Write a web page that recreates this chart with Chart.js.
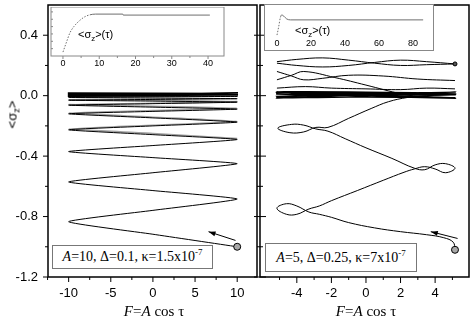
<!DOCTYPE html>
<html>
<head>
<meta charset="utf-8">
<script src="https://cdn.jsdelivr.net/npm/chart.js@4.4.1/dist/chart.umd.min.js"></script>
<style>
  html, body { margin: 0; padding: 0; background: #fff; }
  body { position: relative; width: 474px; height: 325px; overflow: hidden; font-family: "Liberation Sans", Arial, sans-serif; }
  canvas { position: absolute; }
  .lbl { position: absolute; white-space: nowrap; color: #000; line-height: 1; }
  .lbl sub { font-size: 0.72em; vertical-align: -0.35em; line-height: 0; }
  .serif { font-family: "Liberation Serif", "Times New Roman", serif; }
  .note { position: absolute; box-sizing: border-box; border: 1px solid #777; background: #fff; font-family: "Liberation Serif", serif; font-size: 14px; text-align: center; white-space: nowrap; }
  .note sup { font-size: 9px; vertical-align: 6px; line-height: 0; }
</style>
</head>
<body>
<canvas id="mainL" width="262" height="325" style="left:0;top:0"></canvas>
<canvas id="mainR" width="224" height="325" style="left:250px;top:0"></canvas>
<canvas id="insetL" width="190" height="64" style="left:43px;top:7px"></canvas>
<div style="position:absolute;left:264px;top:4px;width:170px;height:47px;box-sizing:border-box;border:1px solid #888;background:#fff">
  <canvas id="insetR" width="168" height="45" style="left:0;top:0"></canvas>
</div>
<div class="lbl" style="left:-8px;top:108px;width:40px;text-align:center;font-size:13px;transform:rotate(-90deg)">&lt;σ<sub>z</sub>&gt;</div>
<div class="lbl serif" style="left:104px;top:304px;width:100px;text-align:center;font-size:15px"><i>F</i>=<i>A</i> cos τ</div>
<div class="lbl serif" style="left:316px;top:304px;width:100px;text-align:center;font-size:15px"><i>F</i>=<i>A</i> cos τ</div>
<div class="lbl" style="left:78px;top:29px;font-size:11px">&lt;σ<sub>z</sub>&gt;(τ)</div>
<div class="lbl" style="left:295px;top:25px;font-size:11px">&lt;σ<sub>z</sub>&gt;(τ)</div>
<div class="note" style="left:52px;top:245px;width:161px;height:24px;line-height:22px"><i>A</i>=10, Δ=0.1, κ=1.5x10<sup>-7</sup></div>
<div class="note" style="left:265px;top:243px;width:152px;height:29px;line-height:27px"><i>A</i>=5, Δ=0.25, κ=7x10<sup>-7</sup></div>

<script>
const SANS = '"Liberation Sans", Arial, sans-serif';

// shared y axis
const yLabels = [-1.2, -0.8, -0.4, 0.0, 0.4];
const yMinor = [-1.0, -0.6, -0.2, 0.2];

// left panel, A=10 : [F, <sz>]
const leftXLabels = [-10, -5, 0, 5, 10];
const leftXMinor = [-12.5, -7.5, -2.5, 2.5, 7.5];
const leftStart = [[10, -1.0]];
const leftArrow = [[9.8, -0.958], [6.6, -0.9]];
const leftPath = [
  [10, -1.0], [0, -0.917], [-10, -0.834], [0, -0.759], [10, -0.684], [0, -0.628],
  [-10, -0.571], [0, -0.51], [10, -0.45], [0, -0.41], [-10, -0.37], [0, -0.33],
  [10, -0.29], [0, -0.258], [-10, -0.226], [0, -0.2], [10, -0.175], [0, -0.147],
  [-10, -0.12], [0, -0.104], [10, -0.089], [0, -0.076], [-10, -0.063], [0, -0.053],
  [10, -0.043], [0, -0.036], [-10, -0.03], [0, -0.025], [10, -0.02], [0, -0.016],
  [-10, -0.012], [0, -0.008], [10, -0.005]
];
const leftGrey = [
  [-10, -0.026], [0, -0.03], [10, -0.038], [0, -0.05], [-10, -0.058], [0, -0.07],
  [10, -0.083], [0, -0.098], [-10, -0.114], [0, -0.142], [10, -0.17], [0, -0.195],
  [-10, -0.22], [0, -0.25], [10, -0.283]
];
const leftBand = [
  [-10.1, 0.018], [10.1, 0.015], [-10.1, 0.011], [10.1, 0.007], [-10.1, 0.003],
  [10.1, -0.001], [-10.1, -0.004], [10.1, 0.019]
];

// right panel, A=5
const rightXLabels = [-4, -2, 0, 2, 4];
const rightXMinor = [-5, -3, -1, 1, 3, 5];
const rightStart = [[5.15, -1.02]];
const rightArrow = [[5.3, -0.945], [3.75, -0.9]];
const rightPath = [
  [5.15, -1.02], [5.05, -0.97], [4.5, -0.94], [3.5, -0.92], [2, -0.9], [0.5, -0.875],
  [-1, -0.84], [-2, -0.805], [-2.7, -0.785],
  [-3.3, -0.77], [-4.0, -0.73], [-4.6, -0.715], [-5.15, -0.745], [-4.6, -0.785],
  [-4.0, -0.785], [-3.3, -0.75], [-2.7, -0.73],
  [-2.0, -0.695], [-0.5, -0.628], [1, -0.56], [2.2, -0.507], [2.8, -0.485],
  [3.4, -0.47], [4.0, -0.485], [4.6, -0.51], [5.15, -0.48], [4.6, -0.45],
  [4.0, -0.458], [3.4, -0.49], [2.8, -0.48],
  [1.5, -0.415], [0, -0.345], [-1.2, -0.285], [-2.2, -0.235],
  [-2.9, -0.22], [-3.6, -0.195], [-4.3, -0.19], [-5.1, -0.215], [-4.4, -0.245],
  [-3.6, -0.24], [-2.9, -0.21], [-2.2, -0.21],
  [-1, -0.15], [0.3, -0.085], [1.3, -0.04], [2.4, -0.012], [3.5, 0.0], [5.2, 0.008]
];
const rightBand = [
  [5.2, 0.012], [-5.2, 0.02], [5.2, -0.012], [-5.2, -0.004], [5.2, 0.024],
  [-5.2, -0.016], [5.2, 0.004], [-5.2, 0.01], [5.2, -0.018], [-5.2, 0.026],
  [5.2, 0.018], [-5.2, -0.01]
];
const rightLow = [[-5.15, 0.05], [-3.5, 0.06], [-2, 0.05], [0, 0.045], [2, 0.04], [3.5, 0.05], [5.15, 0.045]];
const rightMid1 = [[-5.15, 0.16], [-4.3, 0.13], [-3.6, 0.105], [-2.5, 0.115], [-1, 0.135], [1, 0.13], [3, 0.11], [5.15, 0.1]];
const rightMid2 = [[-5.15, 0.105], [-4.3, 0.135], [-3.6, 0.16], [-1.8, 0.12], [0, 0.07], [2.1, 0.01], [3, -0.005]];
const rightTop1 = [[-5.15, 0.225], [-4, 0.24], [-2.5, 0.25], [-1, 0.235], [0.5, 0.215], [2, 0.2], [3.5, 0.205], [5.15, 0.21]];
const rightTop2 = [[-5.15, 0.215], [-4, 0.2], [-2.5, 0.19], [-1, 0.2], [0.5, 0.22], [2, 0.235], [3.5, 0.225], [5.15, 0.21]];
const rightEnd = [[5.15, 0.21]];

// insets: <sz>(tau), arbitrary vertical units
const insetLTau = [0, 1, 1.9, 3, 4.7, 6, 7.4, 9, 16.5, 16.6, 40.5];
const insetLVal = [0.08, 0.29, 0.47, 0.6, 0.73, 0.8, 0.84, 0.855, 0.855, 0.835, 0.835];
const insetLTicks = [0, 10, 20, 30, 40];
const insetLMinor = [5, 15, 25, 35];
const insetRTau = [0, 1, 2, 2.8, 4, 5.7, 8, 86];
const insetRVal = [0.03, 0.3, 0.6, 0.68, 0.64, 0.55, 0.52, 0.52];
const insetRTicks = [0, 20, 40, 60, 80];

// frame, tick marks and arrows
const framePlugin = {
  id: 'frame',
  afterDatasetsDraw(chart, args, o) {
    const { ctx, chartArea: a } = chart;
    const sx = chart.scales.x, sy = chart.scales.y;
    ctx.save();
    ctx.strokeStyle = o.color;
    if (o.box) {
      ctx.lineWidth = o.box;
      ctx.strokeRect(a.left, a.top, a.right - a.left, a.bottom - a.top);
    }
    ctx.lineWidth = 1;
    ctx.beginPath();
    const xt = (vals, len) => (vals || []).forEach(v => {
      const p = sx.getPixelForValue(v);
      ctx.moveTo(p, a.bottom);
      ctx.lineTo(p, a.bottom + len);
    });
    const yt = (vals, len) => (vals || []).forEach(v => {
      const p = sy.getPixelForValue(v);
      ctx.moveTo(o.yDir === 'in' ? a.left : a.left - len, p);
      ctx.lineTo(o.yDir === 'out' ? a.left : a.left + len, p);
    });
    xt(o.xMajor, o.majLen); xt(o.xMinor, o.minLen);
    yt(o.yMajor, o.majLen); yt(o.yMinor, o.minLen);
    ctx.stroke();
    (o.arrows || []).forEach(([tail, head]) => {
      const x0 = sx.getPixelForValue(tail[0]), y0 = sy.getPixelForValue(tail[1]);
      const x1 = sx.getPixelForValue(head[0]), y1 = sy.getPixelForValue(head[1]);
      const ang = Math.atan2(y1 - y0, x1 - x0);
      const c = Math.cos(ang), s = Math.sin(ang);
      ctx.strokeStyle = '#000';
      ctx.beginPath(); ctx.moveTo(x0, y0); ctx.lineTo(x1, y1); ctx.stroke();
      ctx.beginPath();
      ctx.moveTo(x1, y1);
      ctx.lineTo(x1 - 7 * c + 2.5 * s, y1 - 7 * s - 2.5 * c);
      ctx.lineTo(x1 - 7 * c - 2.5 * s, y1 - 7 * s + 2.5 * c);
      ctx.closePath();
      ctx.fillStyle = '#000';
      ctx.fill();
    });
    ctx.restore();
  }
};

function pts(list) { return list.map(([x, y]) => ({ x, y })); }
function line(list, color, width, tension) {
  return { data: pts(list), showLine: true, borderColor: color, borderWidth: width, pointRadius: 0, tension: tension, fill: false };
}
function dot(list, fill, r) {
  return { data: pts(list), showLine: false, pointRadius: r, pointBackgroundColor: fill, pointBorderColor: '#000', pointBorderWidth: 1 };
}

function mainOptions(xMin, xMax, xLabels, showY, yWidth, padding, frame) {
  const font = { family: SANS, size: 13 };
  return {
    responsive: false, animation: false, events: [],
    layout: { padding },
    plugins: { legend: { display: false }, tooltip: { enabled: false }, frame },
    scales: {
      x: {
        type: 'linear', min: xMin, max: xMax,
        grid: { display: false, drawTicks: false }, border: { display: false },
        afterBuildTicks: s => { s.ticks = xLabels.map(v => ({ value: v })); },
        ticks: { autoSkip: false, maxRotation: 0, padding: 9, color: '#000', font, callback: v => String(v) },
        afterFit: s => { s.height = 48; s.paddingLeft = 0; s.paddingRight = 0; }
      },
      y: {
        type: 'linear', min: -1.2, max: 0.6,
        grid: { display: false, drawTicks: false }, border: { display: false },
        afterBuildTicks: s => { s.ticks = yLabels.map(v => ({ value: v })); },
        ticks: { display: showY, autoSkip: false, padding: 10, color: '#000', font, callback: v => v.toFixed(1) },
        afterFit: s => { s.width = yWidth; s.paddingTop = 0; s.paddingBottom = 0; }
      }
    }
  };
}

new Chart(document.getElementById('mainL'), {
  type: 'scatter',
  data: { datasets: [
    dot(leftStart, '#a8a8a8', 3.5),
    line(leftBand, '#000', 1.4, 0),
    line(leftPath, '#000', 1, 0.15),
    line(leftGrey, '#a0a0a0', 1.4, 0.15)
  ] },
  options: mainOptions(-12.45, 12.35, leftXLabels, true, 48, { top: 1.5, right: 2, left: 0, bottom: 0 }, {
    color: '#000', box: 1.5, majLen: 5, minLen: 3, yDir: 'out',
    xMajor: leftXLabels, xMinor: leftXMinor, yMajor: yLabels, yMinor: yMinor,
    arrows: [leftArrow]
  }),
  plugins: [framePlugin]
});

new Chart(document.getElementById('mainR'), {
  type: 'scatter',
  data: { datasets: [
    dot(rightStart, '#a8a8a8', 3.5),
    dot(rightEnd, '#555', 2),
    line(rightPath, '#000', 1, 0.4),
    line(rightBand, '#000', 1.1, 0.2),
    line(rightLow, '#000', 1, 0.4),
    line(rightMid1, '#000', 1, 0.4),
    line(rightMid2, '#000', 1, 0.4),
    line(rightTop1, '#000', 1, 0.4),
    line(rightTop2, '#000', 1, 0.4)
  ] },
  options: mainOptions(-6.13, 5.96, rightXLabels, false, 10, { top: 1.5, right: 3, left: 0, bottom: 0 }, {
    color: '#000', box: 1.5, majLen: 6, minLen: 3, yDir: 'both',
    xMajor: rightXLabels, xMinor: rightXMinor, yMajor: yLabels, yMinor: yMinor,
    arrows: [rightArrow]
  }),
  plugins: [framePlugin]
});

function insetChart(id, tau, val, dashTo, xMin, xMax, xTicks, xHeight, padding, frame) {
  return new Chart(document.getElementById(id), {
    type: 'scatter',
    data: { datasets: [{
      data: tau.map((t, i) => ({ x: t, y: val[i] })),
      showLine: true, borderColor: '#6e6e6e', borderWidth: 1, pointRadius: 0,
      cubicInterpolationMode: 'monotone',
      segment: { borderDash: c => c.p1.parsed.x <= dashTo ? [1.5, 1.5] : undefined }
    }] },
    options: {
      responsive: false, animation: false, events: [],
      layout: { padding },
      plugins: { legend: { display: false }, tooltip: { enabled: false }, frame },
      scales: {
        x: {
          type: 'linear', min: xMin, max: xMax,
          grid: { display: false, drawTicks: false }, border: { display: false },
          afterBuildTicks: s => { s.ticks = xTicks.map(v => ({ value: v })); },
          ticks: { autoSkip: false, maxRotation: 0, padding: 2, color: '#000', font: { family: SANS, size: 9 } },
          afterFit: s => { s.height = xHeight; s.paddingLeft = 0; s.paddingRight = 0; }
        },
        y: { display: false, min: 0, max: 1 }
      }
    },
    plugins: [framePlugin]
  });
}

insetChart('insetL', insetLTau, insetLVal, 7.4, -3.3, 44.4, insetLTicks, 15,
  { left: 8, right: 9, top: 0, bottom: 0 },
  { color: '#888', box: 1, majLen: 3, minLen: 2, yDir: 'in', xMajor: insetLTicks, xMinor: insetLMinor,
    yMinor: [0.15, 0.3, 0.45, 0.6, 0.75, 0.9] });

insetChart('insetR', insetRTau, insetRVal, 2, -7.06, 91.8, insetRTicks, 14,
  { left: 0, right: 0, top: 0, bottom: 0 },
  { color: '#888', box: 0, majLen: 0, minLen: 0, yDir: 'in' });
</script>
</body>
</html>
